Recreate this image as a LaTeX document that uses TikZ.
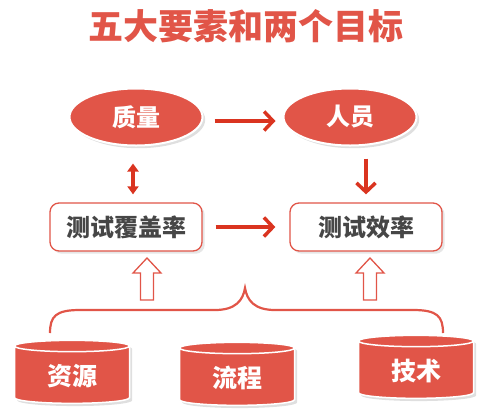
\documentclass[tikz,border=0pt]{standalone}
\usepackage{fontspec}
\setmainfont{Noto Sans CJK SC}
\usetikzlibrary{shapes.geometric,arrows.meta,shadows}
\definecolor{hong}{RGB}{225,85,72}
\definecolor{jian}{RGB}{218,52,32}
\definecolor{zi}{RGB}{70,70,70}

\begin{document}
\begin{tikzpicture}[x=1pt,y=-1pt,
  biaoti/.style = {text=hong, font=\bfseries\fontsize{35}{35}\selectfont},
  yaoqiu/.style = {ellipse, fill=hong, draw=white, line width=2pt,
    minimum width=133pt, minimum height=57pt, text=white,
    font=\bfseries\fontsize{24}{24}\selectfont,
    drop shadow={opacity=0.25}},
  mubiao/.style = {rectangle, rounded corners=9pt, draw=hong, line width=1.3pt,
    fill=white, minimum width=152pt, minimum height=48pt, text=zi,
    font=\bfseries\fontsize{24}{24}\selectfont,
    drop shadow={opacity=0.2}},
  jichu/.style = {cylinder, shape border rotate=90, aspect=0.2,
    fill=hong, draw=white, line width=1.5pt,
    minimum width=115pt, minimum height=63pt, text=white,
    font=\bfseries\fontsize{25}{25}\selectfont,
    drop shadow={opacity=0.25}},
  jiantou/.style = {draw=jian, line width=3.5pt,
    -{Straight Barb[length=9pt,width=19pt]}},
  kongxin/.style = {draw=hong, line width=1.3pt, fill=white}]
  \useasboundingbox (0,0) rectangle (500,413);

  % title
  \node[biaoti] (bt) at (246,26) {五大要素和两个目标};

  % goals and factors
  \node[yaoqiu] (zl) at (136,117) {质量};
  \node[yaoqiu] (ry) at (350,117) {人员};
  \node[mubiao] (fg) at (126,227) {测试覆盖率};
  \node[mubiao] (xl) at (366,227) {测试效率};
  \node[jichu] (zy) at (72,376) {资源};
  \node[jichu] (lc) at (237,378) {流程};
  \node[jichu] (js) at (416,371) {技术};

  % arrows
  \draw[jiantou, shorten <=11pt, shorten >=7pt]
    ([yshift=-4pt]zl.east) -- ([yshift=-4pt]ry.west);
  \draw[jiantou, shorten <=13pt, shorten >=14pt] (fg) -- (xl);
  \draw[draw=jian, line width=3.5pt,
    {Triangle[length=8pt,width=11pt]}-{Triangle[length=8pt,width=11pt]},
    shorten <=17pt, shorten >=8pt]
    ([xshift=-3pt]zl.south) -- ([xshift=-3pt]zl.south |- fg.north);
  \draw[jiantou, shorten <=12pt, shorten >=8pt] (xl.north |- ry.south) -- (xl.north);

  % hollow arrows
  \foreach \x in {147,370}
    \draw[kongxin] (\x-6.5,300) -- (\x-6.5,273) -- (\x-14,273) -- (\x,258)
      -- (\x+14,273) -- (\x+6.5,273) -- (\x+6.5,300) -- cycle;

  % brace
  \draw[hong, line width=2.2pt]
    (50,333) .. controls (50,316) and (56,310) .. (80,310) -- (215,310)
    .. controls (236,310) and (243,300) .. (245,288)
    .. controls (247,300) and (254,310) .. (275,310) -- (413,310)
    .. controls (437,310) and (443,316) .. (443,333);
\end{tikzpicture}
\end{document}
